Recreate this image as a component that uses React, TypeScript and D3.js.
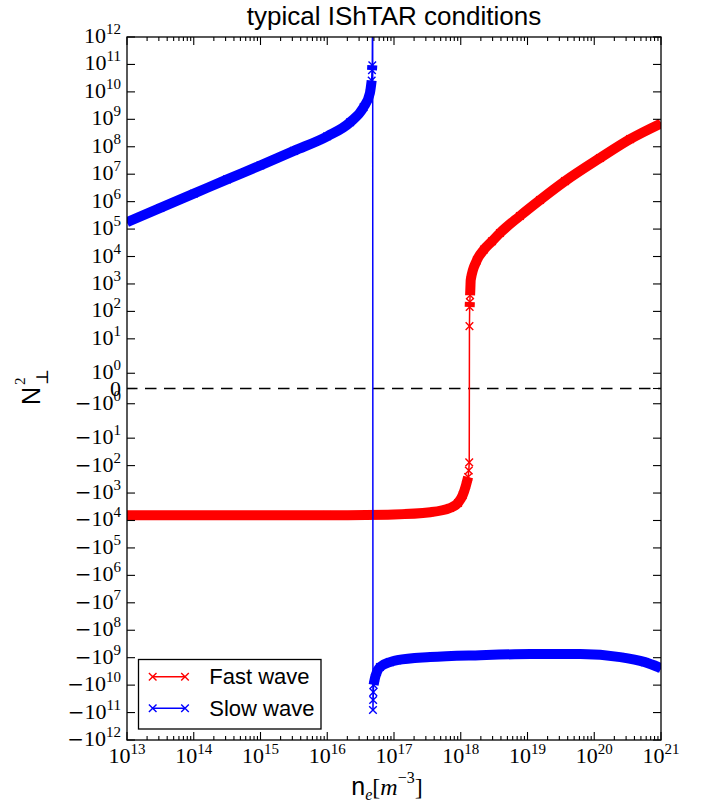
import React, { useEffect, useRef } from "react";
import * as d3 from "d3";

// electron density [m^-3] and N_perp^2
const fastNe = [1e13, 1e14, 1e15, 1e16, 1e17, 3.5e17, 6.9e17, 9.1e17, 1.07e18, 1.2e18, 1.29e18, 1.32e18, 1.34e18,
  1.35e18, 1.36e18, 1.37e18, 1.38e18, 1.39e18, 1.4e18, 1.41e18, 1.74e18, 2.23e18, 2.94e18, 3.87e18, 7.7e18,
  1.54e19, 3.65e19, 1.22e20, 3.44e20, 1e21];
const fastN2 = [-6.5e3, -6.5e3, -6.5e3, -6.4e3, -6.0e3, -5.0e3, -3.5e3, -2.3e3, -1.2e3, -510, -260, -150, -76,
  29, 145, 220, 390, 590, 950, 1.4e3, 7.2e3, 1.8e4, 3.6e4, 7.2e4, 3.0e5,
  1.15e6, 5.6e6, 3.9e7, 1.9e8, 7.1e8];

const slowNe = [1e13, 3.16e13, 1e14, 3.16e14, 1e15, 3.16e15, 1e16, 2.2e16, 3.5e16, 4.35e16, 4.63e16, 4.68e16,
  4.73e16, 4.79e16, 4.84e16, 4.87e16, 4.9e16, 4.95e16, 5.19e16, 5.56e16, 6.17e16, 8.7e16, 1.12e17, 3.47e17,
  1.95e18, 1.1e19, 6.2e19, 2.45e20, 5.75e20, 1e21];
const slowN2 = [1.8e5, 5.9e5, 1.95e6, 6.5e6, 2.1e7, 7.1e7, 2.4e8, 7.8e8, 2.75e9, 8.9e9, 2.6e10, 6.2e10,
  9.3e10, 1e14, -8.1e10, -3.5e10, -1.8e10, -9.8e9, -5.5e9, -3.3e9, -2.2e9, -1.45e9, -1.23e9, -9.5e8,
  -8.1e8, -7.4e8, -7.4e8, -9.5e8, -1.45e9, -2.4e9];

const seriesNames = ["Fast wave", "Slow wave"];
const seriesColors = ["#ff0000", "#0000ff"];
const xTickExps = [13, 14, 15, 16, 17, 18, 19, 20, 21];
const yTickExps = [12, 11, 10, 9, 8, 7, 6, 5, 4, 3, 2, 1, 0];

const W = 704;
const H = 808;
const left = 127;
const right = 661;
const top = 37;
const bottom = 740;

// matplotlib style symlog, linthresh 2, linscale 1
const LINTHRESH = 2;
const LINSCALE = 1 / (1 - 0.1);
const symlog = (v: number) => {
  const a = Math.abs(v);
  const s = Math.sign(v);
  if (a < LINTHRESH) return (s * a * LINSCALE) / LINTHRESH;
  return s * (LINSCALE + Math.log10(a / LINTHRESH));
};

const SERIF = "'Liberation Serif', 'DejaVu Serif', serif";
const SANS = "'Liberation Sans', Arial, sans-serif";

const App = () => {
  const svgRef = useRef<SVGSVGElement>(null);

  useEffect(() => {
    const svg = d3.select(svgRef.current);
    svg.selectAll("*").remove();

    const x = d3.scaleLog().domain([1e13, 1e21]).range([left, right]);
    const fMax = symlog(1e12);
    const yLin = d3.scaleLinear().domain([-fMax, fMax]).range([bottom, top]);
    const y = (v: number) => yLin(symlog(v));

    svg.append("rect").attr("width", W).attr("height", H).attr("fill", "#fff");

    svg.append("defs").append("clipPath").attr("id", "plot-clip")
      .append("rect")
      .attr("x", left).attr("y", top)
      .attr("width", right - left).attr("height", bottom - top);

    // zero line
    svg.append("line")
      .attr("x1", left).attr("x2", right)
      .attr("y1", y(0)).attr("y2", y(0))
      .attr("stroke", "#000")
      .attr("stroke-width", 1.3)
      .attr("stroke-dasharray", "11.5,7.5")
      .attr("stroke-dashoffset", 1);

    const series = [
      { ne: fastNe, n2: fastN2 },
      { ne: slowNe, n2: slowN2 },
    ];

    const xMark = (s: number) => `M${-s},${-s}L${s},${s}M${-s},${s}L${s},${-s}`;

    series.forEach((sr, si) => {
      const color = seriesColors[si];
      const pts: [number, number][] = sr.ne.map((n, i) => [x(n), y(sr.n2[i])]);
      const g = svg.append("g").attr("clip-path", "url(#plot-clip)");

      // dense stretches, where the crosses overlap into a band
      const runs: [number, number][][] = [];
      let cur: [number, number][] = [pts[0]];
      for (let i = 1; i < pts.length; i++) {
        const dx = Math.abs(pts[i][0] - pts[i - 1][0]);
        const dy = Math.abs(pts[i][1] - pts[i - 1][1]);
        if (dx >= 1.2 || dy <= 6) {
          cur.push(pts[i]);
        } else {
          if (cur.length > 1) runs.push(cur);
          cur = [pts[i]];
        }
      }
      if (cur.length > 1) runs.push(cur);

      const band = d3.line().curve(d3.curveMonotoneX);
      runs.forEach((r) => {
        g.append("path")
          .attr("d", band(r))
          .attr("fill", "none")
          .attr("stroke", color)
          .attr("stroke-width", 10)
          .attr("stroke-linejoin", "round");
      });

      g.append("path")
        .attr("d", d3.line()(pts))
        .attr("fill", "none")
        .attr("stroke", color)
        .attr("stroke-width", 1.5);

      g.selectAll("path.mk")
        .data(pts)
        .enter()
        .append("path")
        .attr("class", "mk")
        .attr("transform", (d) => `translate(${d[0]},${d[1]})`)
        .attr("d", xMark(3.8))
        .attr("fill", "none")
        .attr("stroke", color)
        .attr("stroke-width", 1.4);
    });

    // frame
    svg.append("rect")
      .attr("x", left).attr("y", top)
      .attr("width", right - left).attr("height", bottom - top)
      .attr("fill", "none")
      .attr("stroke", "#000")
      .attr("stroke-width", 1.3);

    const ticks = svg.append("g").attr("stroke", "#000").attr("stroke-width", 1.1);

    // x ticks, major and minor, top and bottom
    xTickExps.forEach((e) => {
      const px = x(Math.pow(10, e));
      ticks.append("line").attr("x1", px).attr("x2", px).attr("y1", bottom).attr("y2", bottom - 8);
      ticks.append("line").attr("x1", px).attr("x2", px).attr("y1", top).attr("y2", top + 8);
      if (e < 21) {
        for (let m = 2; m <= 9; m++) {
          const mx = x(m * Math.pow(10, e));
          ticks.append("line").attr("x1", mx).attr("x2", mx).attr("y1", bottom).attr("y2", bottom - 4);
          ticks.append("line").attr("x1", mx).attr("x2", mx).attr("y1", top).attr("y2", top + 4);
        }
      }
    });

    // y ticks
    const yTickVals = [
      ...yTickExps.map((e) => Math.pow(10, e)),
      0,
      ...yTickExps.slice().reverse().map((e) => -Math.pow(10, e)),
    ];
    yTickVals.forEach((v) => {
      const py = y(v);
      ticks.append("line").attr("x1", left).attr("x2", left + 8).attr("y1", py).attr("y2", py);
      ticks.append("line").attr("x1", right).attr("x2", right - 8).attr("y1", py).attr("y2", py);
    });

    // y tick labels
    const yLab = svg.append("g").attr("font-family", SERIF).attr("fill", "#000");
    yTickVals.forEach((v) => {
      const py = y(v);
      if (v === 0) {
        yLab.append("text").attr("x", 121).attr("y", py + 7).attr("text-anchor", "end")
          .attr("font-size", 22).text("0");
        return;
      }
      const e = Math.round(Math.log10(Math.abs(v)));
      const t = yLab.append("text").attr("x", 121).attr("y", py + 6).attr("text-anchor", "end")
        .attr("font-size", 22);
      if (v < 0) {
        t.append("tspan").attr("font-family", "'DejaVu Serif', serif").attr("font-size", 20).text("\u2212");
      }
      t.append("tspan").text("10");
      t.append("tspan").attr("dy", -9).attr("font-size", 15).text(String(e));
    });

    // x tick labels
    const xLab = svg.append("g").attr("font-family", SERIF).attr("fill", "#000");
    xTickExps.forEach((e) => {
      const t = xLab.append("text").attr("x", x(Math.pow(10, e))).attr("y", 763)
        .attr("text-anchor", "middle").attr("font-size", 22);
      t.append("tspan").text("10");
      t.append("tspan").attr("dy", -9).attr("font-size", 15).text(String(e));
    });

    // title
    svg.append("text")
      .attr("x", (left + right) / 2).attr("y", 25)
      .attr("text-anchor", "middle")
      .attr("font-family", SANS).attr("font-size", 26)
      .text("typical IShTAR conditions");

    // x label: n_e[m^-3]
    const xl = svg.append("text").attr("x", 387).attr("y", 795).attr("text-anchor", "middle")
      .attr("font-size", 24).attr("font-family", SERIF);
    xl.append("tspan").attr("font-family", SANS).attr("font-size", 25).text("n");
    xl.append("tspan").attr("font-style", "italic").attr("font-size", 16).attr("dy", 5).text("e");
    xl.append("tspan").attr("dy", -5).text("[");
    xl.append("tspan").attr("font-style", "italic").text("m");
    xl.append("tspan").attr("dy", -12).attr("font-size", 16).text("\u22123");
    xl.append("tspan").attr("dy", 12).text("]");

    // y label: N^2_perp
    const yl = svg.append("g").attr("transform", "translate(40,405) rotate(-90)");
    yl.append("text").attr("x", 0).attr("y", 0).attr("font-family", SANS).attr("font-size", 25).text("N");
    yl.append("text").attr("x", 20).attr("y", -15).attr("font-family", SERIF).attr("font-size", 15).text("2");
    yl.append("text").attr("x", 20).attr("y", 8).attr("font-family", SERIF).attr("font-size", 17).text("\u22a5");

    // legend
    const lg = svg.append("g");
    lg.append("rect")
      .attr("x", 138.5).attr("y", 659.5).attr("width", 182.5).attr("height", 69.5)
      .attr("fill", "#fff").attr("stroke", "#000").attr("stroke-width", 1.3);
    seriesNames.forEach((name, i) => {
      const ly = 676.7 + i * 31.6;
      lg.append("line").attr("x1", 152.7).attr("x2", 185).attr("y1", ly).attr("y2", ly)
        .attr("stroke", seriesColors[i]).attr("stroke-width", 1.5);
      [152.7, 185].forEach((mx) => {
        lg.append("path").attr("transform", `translate(${mx},${ly})`).attr("d", xMark(3.8))
          .attr("fill", "none").attr("stroke", seriesColors[i]).attr("stroke-width", 1.4);
      });
      lg.append("text").attr("x", 209.3).attr("y", ly + 7.5)
        .attr("font-family", SANS).attr("font-size", 22).text(name);
    });
  }, []);

  return (
    <svg ref={svgRef} width={W} height={H}
      style={{ position: "absolute", left: 0, top: 0, display: "block" }} />
  );
};

export default App;
